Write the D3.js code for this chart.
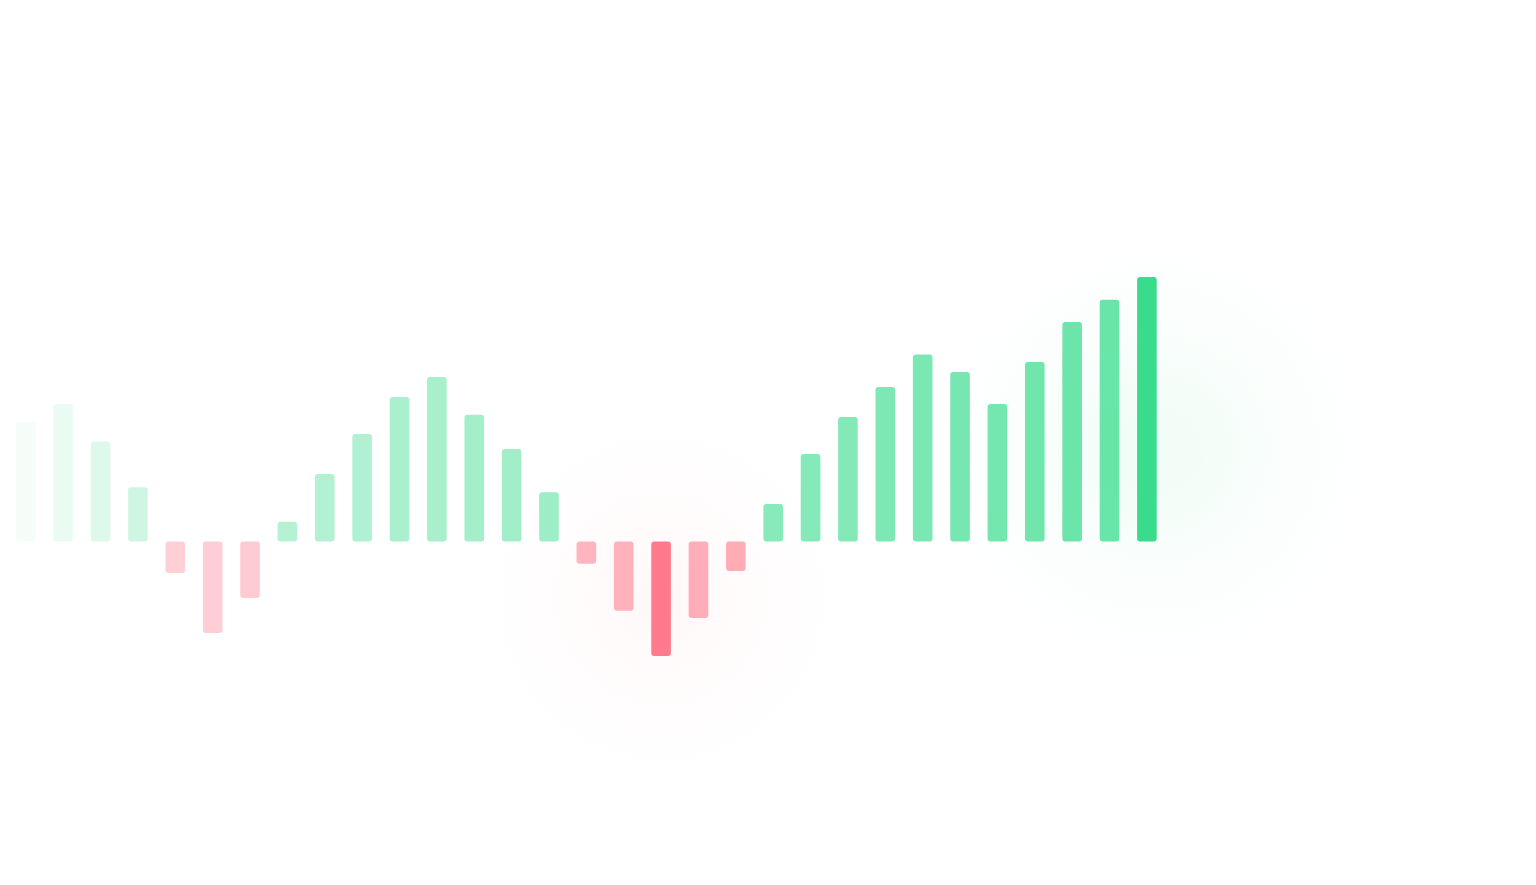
<!DOCTYPE html>
<html>
<head>
<meta charset="utf-8">
<script src="https://cdn.jsdelivr.net/npm/d3@7"></script>
<style>
  html, body { margin: 0; padding: 0; background: #ffffff; overflow: hidden; }
  svg { display: block; }
</style>
</head>
<body>
<svg id="chart" width="1536" height="885"></svg>
<script>
// ---- data ----
const periods = d3.range(1, 32).map(i => "P" + i);
const values = [
  4.07, 4.68, 3.40, 1.85, -1.07, -3.11, -1.92, 0.67, 2.30, 3.66,
  4.92, 5.60, 4.31, 3.15, 1.68, -0.76, -2.36, -3.90, -2.60, -1.00,
  1.28, 2.98, 4.24, 5.26, 6.36, 5.77, 4.68, 6.11, 7.47, 8.23, 9.00
];

// ---- styling ----
const posColor = "#38dc8c";
const negColor = "#ff7a8c";

const svg = d3.select("#chart");

const x = d3.scaleBand()
  .domain(periods)
  .range([16, 1156.7])
  .paddingInner(0.475)
  .paddingOuter(0);

const y = d3.scaleLinear()
  .domain([0, 9])
  .range([541.5, 277]);

const n = values.length;
const maxIdx = values.indexOf(d3.max(values));
const minIdx = values.indexOf(d3.min(values));

function opacity(i) {
  if (i === maxIdx || i === minIdx) return 1;
  const base = 0.25 + 0.5 * (i / (n - 2));
  const fade = Math.min(1, (i + 1) / 5);
  const boost = values[i] < 0 ? 0.04 : 0;
  return (base + boost) * fade;
}

// glows
const defs = svg.append("defs");
function glow(id, color, peak) {
  const g = defs.append("radialGradient").attr("id", id);
  const stops = [[0, 1], [0.2, 0.8], [0.45, 0.45], [0.7, 0.18], [1, 0]];
  stops.forEach(([o, k]) => {
    g.append("stop").attr("offset", (o * 100) + "%")
      .attr("stop-color", color).attr("stop-opacity", peak * k);
  });
}
glow("glowPos", posColor, 0.075);
glow("glowNeg", negColor, 0.055);

const bw = x.bandwidth();
svg.append("circle")
  .attr("cx", x(periods[maxIdx]) + bw / 2 + 10)
  .attr("cy", y(values[maxIdx] * 0.35))
  .attr("r", 225)
  .attr("fill", "url(#glowPos)");
svg.append("circle")
  .attr("cx", x(periods[minIdx]) + bw / 2)
  .attr("cy", (y(0) + y(values[minIdx])) / 2)
  .attr("r", 190)
  .attr("fill", "url(#glowNeg)");

// bars
svg.append("g")
  .selectAll("rect")
  .data(values)
  .join("rect")
  .attr("x", (d, i) => x(periods[i]))
  .attr("width", bw)
  .attr("y", d => d >= 0 ? y(d) : y(0))
  .attr("height", d => Math.abs(y(d) - y(0)))
  .attr("rx", 3)
  .attr("ry", 3)
  .attr("fill", d => d >= 0 ? posColor : negColor)
  .attr("fill-opacity", (d, i) => opacity(i));
</script>
</body>
</html>
